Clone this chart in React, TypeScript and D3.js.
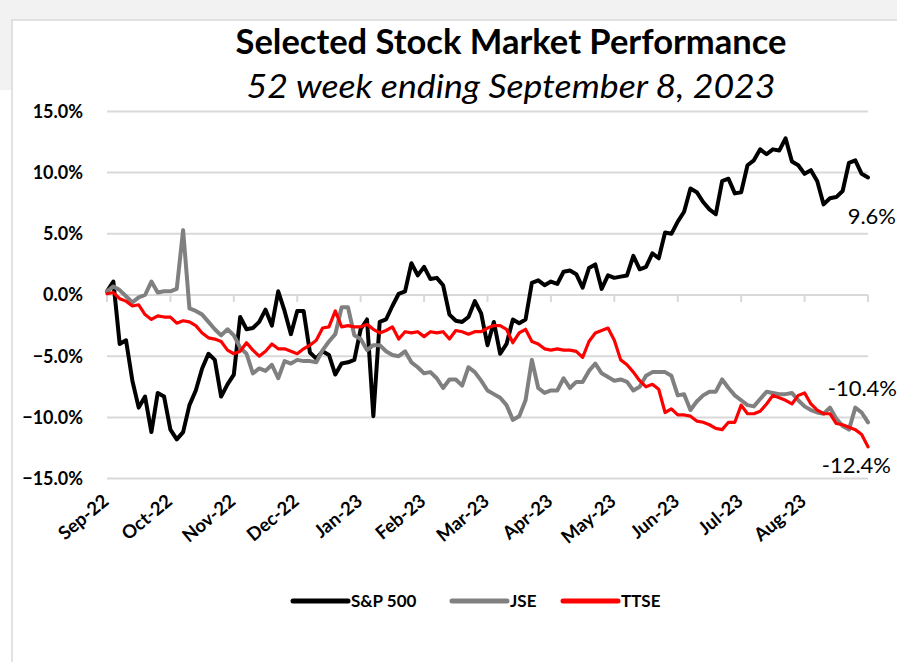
import React from 'react';
import * as d3 from 'd3';

// month labels on the category axis
const months = ['Sep-22', 'Oct-22', 'Nov-22', 'Dec-22', 'Jan-23', 'Feb-23', 'Mar-23', 'Apr-23', 'May-23', 'Jun-23', 'Jul-23', 'Aug-23'];
const yTicks = [-15, -10, -5, 0, 5, 10, 15];

// % change since start (about 2 obs per week)
const sp500 = [
  0.3, 1.1, -4.0, -3.7, -7.0, -9.2, -8.3, -11.2, -8.0, -8.3,
  -11.0, -11.8, -11.2, -9.0, -7.8, -6.0, -4.8, -5.3, -8.3, -7.3,
  -6.5, -1.8, -2.8, -2.7, -2.2, -1.2, -2.5, 0.3, -1.3, -3.2,
  -1.3, -1.3, -4.7, -5.2, -4.6, -4.9, -6.5, -5.6, -5.5, -5.3,
  -2.8, -2.0, -9.9, -2.2, -2.0, -0.9, 0.1, 0.3, 2.6, 1.6,
  2.3, 1.3, 1.4, 0.8, -1.6, -2.1, -2.2, -1.8, -0.5, -1.5,
  -4.1, -2.2, -4.8, -4.0, -2.0, -2.3, -2.0, 1.0, 1.2, 0.8,
  1.1, 0.9, 1.9, 2.0, 1.7, 0.6, 2.2, 2.5, 0.5, 1.6,
  1.4, 1.5, 1.6, 3.2, 2.1, 2.3, 3.4, 3.0, 5.1, 5.0,
  6.0, 6.8, 8.7, 8.4, 7.6, 7.0, 6.6, 9.3, 9.5, 8.3,
  8.4, 10.6, 11.0, 11.9, 11.5, 11.9, 11.8, 12.8, 10.9, 10.6,
  9.9, 10.2, 9.3, 7.4, 7.9, 8.0, 8.5, 10.8, 11.0, 9.9,
  9.6,
];
const jse = [
  0.3, 0.7, 0.4, -0.1, -0.6, -0.2, 0.0, 1.1, 0.2, 0.3,
  0.3, 0.5, 5.3, -1.1, -1.3, -1.6, -2.2, -2.8, -3.3, -2.8,
  -3.3, -4.3, -4.8, -6.4, -6.0, -6.2, -5.7, -6.8, -5.4, -5.6,
  -5.3, -5.4, -5.4, -5.5, -4.5, -3.8, -3.2, -1.0, -1.0, -3.3,
  -3.6, -4.5, -4.1, -4.1, -4.6, -4.9, -5.0, -4.6, -5.5, -5.9,
  -6.4, -6.3, -6.8, -7.6, -6.9, -6.9, -7.4, -5.9, -6.3, -7.0,
  -7.8, -8.1, -8.4, -9.0, -10.2, -9.9, -8.6, -5.3, -7.6, -8.0,
  -7.8, -7.8, -6.8, -7.6, -7.1, -7.1, -6.2, -5.6, -6.4, -6.7,
  -7.0, -6.9, -7.1, -7.8, -7.5, -6.6, -6.3, -6.3, -6.3, -6.6,
  -8.2, -8.1, -9.4, -8.7, -8.2, -7.9, -7.9, -6.9, -7.6, -8.2,
  -8.6, -9.0, -9.1, -8.5, -7.9, -8.0, -8.1, -8.1, -8.0, -8.6,
  -9.1, -9.4, -9.6, -9.7, -9.2, -10.1, -10.7, -11.0, -9.2, -9.6,
  -10.4,
];
const ttse = [
  0.1, 0.2, -0.3, -0.5, -0.9, -0.8, -1.6, -2.0, -1.7, -1.8,
  -1.8, -2.3, -2.1, -2.2, -2.5, -3.1, -3.5, -3.6, -3.8, -4.5,
  -4.8, -4.6, -3.9, -4.5, -5.0, -4.6, -4.0, -4.4, -4.4, -4.6,
  -4.8, -4.4, -4.1, -3.7, -2.7, -2.6, -1.3, -2.6, -2.5, -2.6,
  -2.6, -2.4, -2.8, -3.1, -2.9, -2.6, -3.6, -3.0, -3.1, -3.0,
  -3.4, -3.0, -3.1, -3.0, -3.6, -2.9, -3.0, -3.2, -3.0, -3.0,
  -2.7, -2.5, -2.5, -2.8, -3.9, -3.1, -2.8, -3.8, -4.0, -4.4,
  -4.5, -4.4, -4.5, -4.5, -4.6, -5.1, -3.8, -3.1, -2.9, -2.7,
  -3.7, -5.3, -5.7, -6.3, -7.0, -7.5, -7.3, -7.7, -9.6, -9.3,
  -9.8, -9.8, -9.9, -10.3, -10.4, -10.6, -10.9, -11.0, -10.4, -10.4,
  -9.0, -9.7, -9.7, -9.5, -8.9, -8.2, -8.4, -8.6, -8.9, -8.2,
  -8.0, -8.9, -9.4, -9.7, -9.7, -10.5, -10.6, -10.8, -11.0, -11.4,
  -12.4,
];

const seriesNames = ['S&P 500', 'JSE', 'TTSE'];
const seriesColors = ['#000000', '#808080', '#ff0000'];
const endLabels = ['9.6%', '-10.4%', '-12.4%'];

const W = 897;
const H = 662;
const FONT = 'Lato, "Open Sans", sans-serif';

export default function App() {
  const n = sp500.length;
  const x = d3.scaleLinear().domain([0, n - 1]).range([107, 868]);
  const y = d3.scaleLinear().domain([-15, 15]).range([478.6, 111.4]);
  const fmt = (v: number) => d3.format('.1f')(v) + '%';
  const line = d3.line<number>().x((_, i) => x(i)).y((d) => y(d));

  const all = [sp500, jse, ttse];
  const tickIdx = d3.range(months.length + 1).map((k) => (k * (n - 1)) / months.length);

  // label placement next to last point
  const endPos = [
    { x: 896, dy: 47 },
    { x: 897, dy: -26 },
    { x: 891, dy: 26 },
  ];

  const legendX = [293, 452, 563];

  return (
    <svg width={W} height={H} style={{ position: 'absolute', left: 0, top: 0, background: '#fff' }}>
      <rect x={0} y={0} width={W} height={20} fill="#f2f2f2" />
      <rect x={0} y={0} width={12} height={90} fill="#f2f2f2" />
      <rect x={12} y={20} width={W} height={H} fill="#fff" stroke="#d9d9d9" strokeWidth={1.5} />

      <text x={511} y={54} textAnchor="middle" fontFamily={FONT} fontWeight="bold" fontSize={34} fill="#000"
        textLength={551} lengthAdjust="spacingAndGlyphs">
        Selected Stock Market Performance
      </text>
      <text x={511} y={98} textAnchor="middle" fontFamily={FONT} fontStyle="italic" fontSize={33} fill="#000"
        textLength={529} lengthAdjust="spacingAndGlyphs">
        52 week ending September 8, 2023
      </text>

      {yTicks.map((t) => (
        <g key={t}>
          <line x1={107} x2={868} y1={y(t)} y2={y(t)} stroke="#d9d9d9" strokeWidth={2} />
          <text x={83} y={y(t)} dy="0.36em" textAnchor="end" fontFamily={FONT} fontWeight="bold" fontSize={18} fill="#000">
            {fmt(t)}
          </text>
        </g>
      ))}

      {tickIdx.map((t, k) => (
        <line key={k} x1={x(t)} x2={x(t)} y1={y(0)} y2={y(0) + 7} stroke="#d9d9d9" strokeWidth={2} />
      ))}

      {months.map((m, k) => (
        <text
          key={m}
          transform={`translate(${x(tickIdx[k]) + 3},${503}) rotate(-40)`}
          textAnchor="end"
          fontFamily={FONT}
          fontWeight="bold"
          fontSize={18.5}
          fill="#000"
        >
          {m}
        </text>
      ))}

      {all.map((s, i) => (
        <path
          key={seriesNames[i]}
          d={line(s) || ''}
          fill="none"
          stroke={seriesColors[i]}
          strokeWidth={i === 2 ? 3.2 : 4}
          strokeLinejoin="round"
          strokeLinecap="round"
        />
      ))}

      {all.map((s, i) => (
        <text
          key={endLabels[i]}
          x={endPos[i].x}
          y={y(s[s.length - 1]) + endPos[i].dy}
          textAnchor="end"
          fontFamily={FONT}
          fontSize={22}
          fill="#000"
        >
          {endLabels[i]}
        </text>
      ))}

      {seriesNames.map((name, i) => (
        <g key={name}>
          <line x1={legendX[i]} x2={legendX[i] + 55} y1={601} y2={601} stroke={seriesColors[i]} strokeWidth={5} strokeLinecap="round" />
          <text x={legendX[i] + 58} y={601} dy="0.36em" fontFamily={FONT} fontWeight="bold" fontSize={17} fill="#000">
            {name}
          </text>
        </g>
      ))}
    </svg>
  );
}
